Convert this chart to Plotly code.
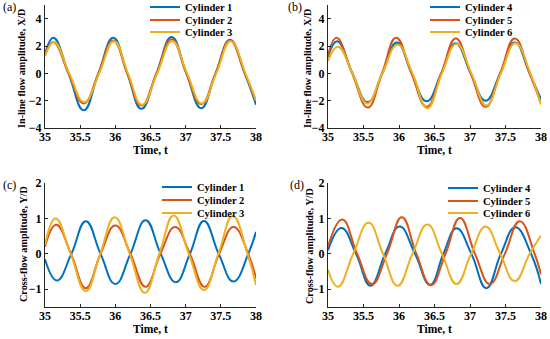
import plotly.graph_objects as go

# ---------------- data ----------------
# Panel (a): in-line amplitude X/D, cylinders 1-3
t_a1 = [35.0, 35.12, 35.335, 35.55, 35.76, 35.97, 36.17, 36.37, 36.585, 36.80, 37.01, 37.22, 37.425, 37.63, 37.84, 38.0]
x_a1 = [1.4, 2.6, 0.0, -2.7, 0.0, 2.6, 0.0, -2.6, 0.0, 2.65, 0.0, -2.55, 0.0, 2.45, 0.0, -2.3]
t_a2 = [35.0, 35.12, 35.335, 35.55, 35.76, 35.97, 36.17, 36.37, 36.585, 36.80, 37.01, 37.22, 37.425, 37.63, 37.84, 38.0]
x_a2 = [1.3, 2.3, 0.0, -2.2, 0.0, 2.4, 0.0, -2.35, 0.0, 2.5, 0.0, -2.25, 0.0, 2.4, 0.0, -2.0]
t_a3 = [35.0, 35.13, 35.345, 35.56, 35.77, 35.98, 36.18, 36.38, 36.595, 36.81, 37.02, 37.23, 37.435, 37.64, 37.85, 38.0]
x_a3 = [1.25, 2.3, 0.0, -2.1, 0.0, 2.35, 0.0, -2.3, 0.0, 2.35, 0.0, -2.2, 0.0, 2.35, 0.0, -2.0]

# Panel (b): in-line amplitude X/D, cylinders 4-6
t_b4 = [35.0, 35.13, 35.345, 35.56, 35.765, 35.97, 36.18, 36.39, 36.595, 36.80, 37.01, 37.22, 37.425, 37.63, 37.84, 38.0]
x_b4 = [1.2, 2.35, 0.0, -2.1, 0.0, 2.25, 0.0, -2.05, 0.0, 2.2, 0.0, -2.0, 0.0, 2.25, 0.0, -1.9]
t_b5 = [35.0, 35.12, 35.34, 35.56, 35.76, 35.96, 36.175, 36.39, 36.595, 36.80, 37.01, 37.22, 37.425, 37.63, 37.84, 38.0]
x_b5 = [1.3, 2.6, 0.0, -2.5, 0.0, 2.6, 0.0, -2.45, 0.0, 2.55, 0.0, -2.45, 0.0, 2.55, 0.0, -2.2]
t_b6 = [35.0, 35.14, 35.345, 35.55, 35.765, 35.98, 36.19, 36.40, 36.605, 36.81, 37.02, 37.23, 37.435, 37.64, 37.85, 38.0]
x_b6 = [0.9, 1.95, 0.0, -2.2, 0.0, 2.1, 0.0, -2.55, 0.0, 2.15, 0.0, -2.35, 0.0, 2.2, 0.0, -2.3]

# Panel (c): cross-flow amplitude Y/D, cylinders 1-3
t_c1 = [35.0, 35.17, 35.375, 35.58, 35.79, 36.0, 36.215, 36.43, 36.645, 36.86, 37.06, 37.26, 37.47, 37.68, 37.89, 38.0]
y_c1 = [-0.15, -0.75, 0.0, 0.92, 0.0, -0.85, 0.0, 0.95, 0.0, -0.8, 0.0, 0.93, 0.0, -0.78, 0.0, 0.62]
t_c2 = [35.0, 35.16, 35.37, 35.58, 35.79, 36.0, 36.215, 36.43, 36.64, 36.85, 37.06, 37.27, 37.475, 37.68, 37.89, 38.0]
y_c2 = [0.2, 0.82, 0.0, -0.97, 0.0, 0.8, 0.0, -0.93, 0.0, 0.76, 0.0, -0.93, 0.0, 0.76, 0.0, -0.7]
t_c3 = [35.0, 35.15, 35.365, 35.58, 35.785, 35.99, 36.205, 36.42, 36.625, 36.83, 37.045, 37.26, 37.465, 37.67, 37.88, 38.0]
y_c3 = [0.25, 1.0, 0.0, -1.05, 0.0, 1.03, 0.0, -1.1, 0.0, 1.08, 0.0, -1.02, 0.0, 1.07, 0.0, -0.88]

# Panel (d): cross-flow amplitude Y/D, cylinders 4-6
t_d4 = [35.0, 35.19, 35.395, 35.6, 35.805, 36.01, 36.225, 36.44, 36.625, 36.81, 37.02, 37.23, 37.435, 37.64, 37.86, 38.0]
y_d4 = [0.1, 0.73, 0.0, -0.9, 0.0, 0.77, 0.0, -0.88, 0.0, 0.72, 0.0, -0.97, 0.0, 0.75, 0.0, -0.85]
t_d5 = [35.0, 35.2, 35.41, 35.62, 35.83, 36.04, 36.245, 36.45, 36.655, 36.86, 37.07, 37.28, 37.49, 37.7, 37.91, 38.0]
y_d5 = [0.2, 0.97, 0.0, -0.85, 0.0, 1.03, 0.0, -0.88, 0.0, 1.01, 0.0, -0.85, 0.0, 0.92, 0.0, -0.58]
t_d6 = [35.0, 35.14, 35.355, 35.57, 35.775, 35.98, 36.19, 36.4, 36.605, 36.81, 37.015, 37.22, 37.425, 37.63, 37.84, 38.0]
y_d6 = [-0.45, -0.93, 0.0, 0.88, 0.0, -0.9, 0.0, 0.83, 0.0, -0.85, 0.0, 0.77, 0.0, -0.77, 0.0, 0.52]

names_left = ["Cylinder 1", "Cylinder 2", "Cylinder 3"]
names_right = ["Cylinder 4", "Cylinder 5", "Cylinder 6"]
panel_labels = ["(a)", "(b)", "(c)", "(d)"]
y_titles = ["In-line flow amplitude, X/D", "In-line flow amplitude, X/D",
            "Cross-flow amplitude, Y/D", "Cross-flow amplitude, Y/D"]
x_title = "Time, t"
x_ticks = [35, 35.5, 36, 36.5, 37, 37.5, 38]

# ---------------- styling ----------------
colors = ["#0072BD", "#D95319", "#EDB120"]
FONT = "Liberation Serif"
AX = "#262626"
W, H = 550, 339

def px_x(p):
    return p / W

def px_y(p):
    return 1 - p / H

fig = go.Figure()

# legend anchor positions (px): text start x, item centre y for each of 3 items
legend_pos = [
    (185, [7, 20, 32]),
    (465, [7, 20, 32]),
    (197, [187, 200, 213]),
    (483, [188, 201, 213]),
]

panels = [
    ("x", "y", [(t_a1, x_a1), (t_a2, x_a2), (t_a3, x_a3)], names_left),
    ("x2", "y2", [(t_b4, x_b4), (t_b5, x_b5), (t_b6, x_b6)], names_right),
    ("x3", "y3", [(t_c1, y_c1), (t_c2, y_c2), (t_c3, y_c3)], names_left),
    ("x4", "y4", [(t_d4, y_d4), (t_d5, y_d5), (t_d6, y_d6)], names_right),
]
legend_layout = {}
k = 0
for pi, (xa, ya, series, names) in enumerate(panels):
    tx, ys = legend_pos[pi]
    for si, ((tt, vv), nm, c) in enumerate(zip(series, names, colors)):
        k += 1
        lname = "legend" if k == 1 else f"legend{k}"
        fig.add_trace(go.Scatter(
            x=tt, y=vv, name=nm, mode="lines",
            line=dict(color=c, width=2, shape="spline", smoothing=1.3),
            xaxis=xa, yaxis=ya, legend=lname,
        ))
        legend_layout[lname] = dict(
            x=px_x(tx - 40), y=px_y(ys[si]), xanchor="left", yanchor="middle",
            bgcolor="rgba(0,0,0,0)", borderwidth=0, itemwidth=30,
            font=dict(family=FONT, size=10.5, color="black", weight="bold"))

def xaxis(domain, anchor):
    return dict(domain=domain, anchor=anchor, range=[35, 38], tickvals=x_ticks,
                showline=True, linecolor=AX, linewidth=1, ticks="inside", ticklen=3,
                tickcolor=AX, showgrid=False, zeroline=False, ticklabelstandoff=-2,
                tickfont=dict(family=FONT, size=12, color="black", weight="bold"),
                title=dict(text=x_title, standoff=0,
                           font=dict(family=FONT, size=11.5, color="black", weight="bold")))

def yaxis(domain, anchor, rng, dtick):
    return dict(domain=domain, anchor=anchor, range=rng, dtick=dtick,
                showline=True, linecolor=AX, linewidth=1, ticks="inside", ticklen=3,
                tickcolor=AX, showgrid=False, zeroline=False,
                tickfont=dict(family=FONT, size=12, color="black", weight="bold"))

xdl = [px_x(45), px_x(256)]
xdr = [px_x(328), px_x(541)]
ydt = [px_y(128), px_y(5)]
ydb = [px_y(307), px_y(183)]

fig.update_layout(
    width=W, height=H, margin=dict(l=0, r=0, t=0, b=0, autoexpand=False),
    paper_bgcolor="white", plot_bgcolor="white", showlegend=True,
    xaxis=xaxis(xdl, "y"), yaxis=yaxis(ydt, "x", [-4, 5], 2),
    xaxis2=xaxis(xdr, "y2"), yaxis2=yaxis(ydt, "x2", [-4, 5], 2),
    xaxis3=xaxis(xdl, "y3"), yaxis3=yaxis(ydb, "x3", [-1.5, 2], 1),
    xaxis4=xaxis(xdr, "y4"), yaxis4=yaxis(ydb, "x4", [-1.5, 2], 1),
    **legend_layout,
)

# y-axis titles (placed like the original MATLAB layout)
ytitle_pos = [(21, 69), (307, 69), (23, 244), (309, 246)]
for txt, (tx, ty) in zip(y_titles, ytitle_pos):
    fig.add_annotation(text=txt, xref="paper", yref="paper", x=px_x(tx), y=px_y(ty),
                       xanchor="center", yanchor="middle", showarrow=False, textangle=-90,
                       font=dict(family=FONT, size=10.2, color="black", weight="bold"))

label_pos = [(1, 7), (286, 7), (1, 185), (288, 185)]
for lab, (lx, ly) in zip(panel_labels, label_pos):
    fig.add_annotation(text=lab, xref="paper", yref="paper", x=px_x(lx), y=px_y(ly),
                       xanchor="left", yanchor="middle", showarrow=False,
                       font=dict(family=FONT, size=12, color="black"))

fig.write_html("out.html", config={"displayModeBar": False},
               post_script="document.body.style.margin='0';")
